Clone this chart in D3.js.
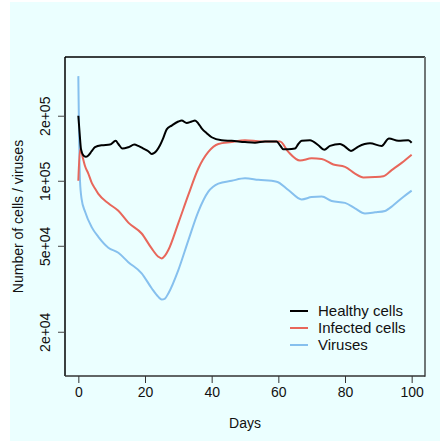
<!DOCTYPE html>
<html>
<head>
<meta charset="utf-8">
<script src="https://cdn.jsdelivr.net/npm/d3@7"></script>
<style>
  body { margin: 0; background: #fff; }
  svg { display: block; font-family: "Liberation Sans", Arial, sans-serif; }
</style>
</head>
<body>
<svg id="chart" width="440" height="441"></svg>
<script>
// values (thousands)
const healthyDays = [0, 0.4, 0.8, 1.5, 2.2, 3, 4, 5, 7, 9.5, 11.2, 12, 13.2, 15, 16.8, 18, 19.5, 21, 22, 23.5, 24.5, 25.5, 26.5, 28, 30, 31, 32.5, 34, 35, 36, 37, 38.5, 40, 43, 46, 50, 53, 56, 59.5, 60.5, 61.5, 63, 65, 66, 67, 69.5, 72, 73.8, 75.5, 78.5, 80, 81.8, 84, 87.5, 91, 93.2, 96, 99, 100];
const healthy = [200, 165, 140, 131, 129, 131, 137, 143, 146, 147, 153, 148, 141, 143, 147, 145, 141, 137, 133, 138, 146, 158, 173, 180, 188, 190, 185, 188, 190, 184, 175, 166, 159, 154, 153, 151, 150, 152, 152, 146, 140, 140, 141, 148, 153, 154, 146, 139, 145, 148, 144, 137.5, 144, 149, 145, 157, 153, 154, 150];

const infectedDays = [0, 0.5, 1, 1.5, 2, 3, 4, 5, 6, 9, 12, 15, 19, 22, 24, 25, 26, 27, 30, 33, 36, 39, 42, 46, 50, 55, 60.5, 63, 66.5, 70, 73, 76.5, 80, 83, 85.5, 89, 91.5, 94, 97, 100];
const infected = [100, 140, 134, 125, 117, 108, 98, 92, 87, 78.6, 72.6, 64, 57, 48.6, 44.5, 43.7, 45, 47.8, 63.7, 86, 114, 136, 148, 151, 154, 152, 152, 136, 124, 127, 126, 119, 116, 108, 103.6, 104, 105, 112, 121, 132];

const virusDays = [0, 0.5, 1, 2, 4, 6, 9, 12, 15, 19, 22, 24, 25, 26, 27, 30, 33, 36, 39, 42, 46, 50, 54, 59.5, 63, 67, 70, 73, 76, 80, 83, 86, 89, 92, 94.5, 97, 100];
const viruses = [305, 100, 82, 72, 61, 55, 49, 46.4, 42, 37.3, 31.8, 29, 28.2, 28.5, 30.1, 38.6, 53, 72, 89, 97, 100, 102.6, 101, 99, 90.6, 82, 84, 84.5, 80.6, 79, 74.5, 70.6, 71.4, 72.5, 77, 83, 90];

const seriesNames = ["Healthy cells", "Infected cells", "Viruses"];
const seriesColors = ["#000000", "#e8675b", "#86c0ee"];
const xTicks = [0, 20, 40, 60, 80, 100];
const yTicks = [2e4, 5e4, 1e5, 2e5];

const plotLeft = 65, plotTop = 57, plotRight = 425, plotBottom = 376;

const svg = d3.select("#chart");

svg.append("rect")
    .attr("x", 10).attr("y", 2)
    .attr("width", 430).attr("height", 439)
    .attr("fill", "#ebffff");

const x = d3.scaleLinear().domain([-4, 104]).range([plotLeft, plotRight]);
const y = d3.scaleLog().domain([12480, 374000]).range([plotBottom, plotTop]);

const series = [
  healthyDays.map((d, i) => [d, healthy[i] * 1000]),
  infectedDays.map((d, i) => [d, infected[i] * 1000]),
  virusDays.map((d, i) => [d, viruses[i] * 1000])
];

const line = d3.line()
    .x(d => x(d[0]))
    .y(d => y(d[1]))
    .curve(d3.curveMonotoneX);

// draw viruses first, healthy on top
[2, 1, 0].forEach(k => {
  svg.append("path")
      .attr("d", line(series[k]))
      .attr("fill", "none")
      .attr("stroke", seriesColors[k])
      .attr("stroke-width", 2)
      .attr("stroke-linejoin", "round");
});

// box: top/left black, right/bottom grey
svg.append("line").attr("x1", plotLeft).attr("x2", plotRight).attr("y1", plotTop).attr("y2", plotTop)
    .attr("stroke", "#000").attr("stroke-width", 1.5);
svg.append("line").attr("x1", plotLeft).attr("x2", plotLeft).attr("y1", plotTop).attr("y2", plotBottom)
    .attr("stroke", "#000").attr("stroke-width", 1.5);
svg.append("line").attr("x1", plotRight).attr("x2", plotRight).attr("y1", plotTop).attr("y2", plotBottom + 0.75)
    .attr("stroke", "#6f7777").attr("stroke-width", 2);
svg.append("line").attr("x1", plotLeft).attr("x2", plotRight).attr("y1", plotBottom).attr("y2", plotBottom)
    .attr("stroke", "#333").attr("stroke-width", 1.5);

const xAxis = svg.append("g")
    .attr("transform", "translate(0," + plotBottom + ")")
    .call(d3.axisBottom(x).tickValues(xTicks).tickSize(7).tickPadding(4).tickFormat(d3.format("d")));
xAxis.select(".domain").remove();
xAxis.selectAll("line").attr("stroke", "#333");
xAxis.selectAll("text").attr("font-size", 14).attr("fill", "#111")
    .style("font-family", "Liberation Sans, Arial, sans-serif");

const yAxis = svg.append("g")
    .attr("transform", "translate(" + plotLeft + ",0)")
    .call(d3.axisLeft(y).tickValues(yTicks).tickSize(7).tickFormat(d => d3.format(".0e")(d).replace("e+", "e+0")));
yAxis.select(".domain").remove();
yAxis.selectAll("line").attr("stroke", "#444");
yAxis.selectAll("text")
    .attr("font-size", 14).attr("fill", "#111")
    .style("font-family", "Liberation Sans, Arial, sans-serif")
    .attr("text-anchor", "middle")
    .attr("dy", 0)
    .attr("x", 0)
    .attr("transform", "translate(-15,0) rotate(-90)");

svg.append("text")
    .attr("x", (x(0) + x(100)) / 2).attr("y", 428)
    .attr("text-anchor", "middle").attr("font-size", 14).attr("fill", "#111")
    .text("Days");

svg.append("text")
    .attr("transform", "translate(23," + (plotTop + plotBottom) / 2 + ") rotate(-90)")
    .attr("text-anchor", "middle").attr("font-size", 14).attr("fill", "#111")
    .text("Number of cells / viruses");

const legend = svg.append("g").attr("transform", "translate(290,311)");
seriesNames.forEach((name, i) => {
  const g = legend.append("g").attr("transform", "translate(0," + i * 17 + ")");
  g.append("line").attr("x1", 0).attr("x2", 18).attr("y1", 0).attr("y2", 0)
      .attr("stroke", seriesColors[i]).attr("stroke-width", 2);
  g.append("text").attr("x", 28).attr("y", 0).attr("dy", "0.35em")
      .attr("font-size", 15).attr("fill", "#111").text(name);
});
</script>
</body>
</html>
